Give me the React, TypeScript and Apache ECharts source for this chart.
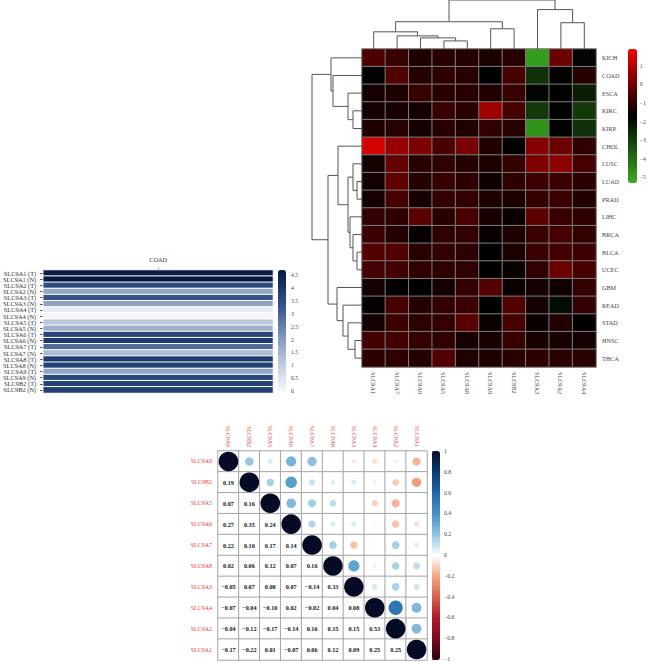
import React, { useEffect, useRef } from 'react';
import * as echarts from 'echarts';

const FONT = '"Liberation Serif", "DejaVu Serif", serif';

// ---------- Top-right clustered heatmap ----------
const hmCols = ['SLC9A1', 'SLC9A7', 'SLC9A6', 'SLC9A5', 'SLC9A8', 'SLC9A9', 'SLC9B2', 'SLC9A3', 'SLC9A2', 'SLC9A4'];
const hmRows = ['KICH', 'COAD', 'ESCA', 'KIRC', 'KIRP', 'CHOL', 'LUSC', 'LUAD', 'PRAD', 'LIHC', 'BRCA', 'BLCA', 'UCEC', 'GBM', 'READ', 'STAD', 'HNSC', 'THCA'];
const hmValues = [
  [-0.55, -0.85, -1.25, -1.1, -1.15, -1.3, -1.1, -5.0, -0.1, -1.8],
  [-1.7, -0.5, -1.15, -1.0, -1.1, -1.7, -0.65, -2.7, -1.75, -1.15],
  [-1.4, -1.25, -0.85, -1.1, -1.1, -1.2, -0.85, -1.8, -1.75, -2.3],
  [-1.4, -1.35, -1.4, -0.85, -1.1, 0.7, -0.65, -2.9, -1.75, -2.9],
  [-1.25, -1.1, -1.4, -1.1, -1.2, -1.0, -1.1, -4.8, -1.75, -2.7],
  [1.5, 0.6, 0.2, -0.6, 0.1, -1.2, -1.7, 0.3, -0.1, -1.0],
  [-1.35, -0.2, -1.1, -1.0, -1.15, -1.25, -0.95, 0.2, 0.4, -0.65],
  [-1.4, -0.25, -1.15, -0.9, -1.0, -1.45, -1.0, -0.8, -0.8, -1.05],
  [-1.4, -0.65, -1.35, -0.95, -0.95, -1.25, -1.3, -0.9, -0.8, -1.2],
  [-0.95, -1.0, -0.35, -1.1, -0.65, -1.35, -1.55, -0.3, -0.85, -1.0],
  [-0.8, -1.15, -1.6, -1.0, -0.95, -1.6, -1.25, -0.85, -0.65, -0.95],
  [-0.45, -0.45, -1.1, -0.95, -1.0, -1.7, -1.3, -0.85, -0.7, -0.8],
  [-0.65, -0.7, -1.0, -1.0, -1.0, -1.7, -1.55, -1.0, -0.1, -0.65],
  [-1.4, -1.65, -1.7, -1.4, -0.95, -0.45, -1.55, -1.35, -1.45, -0.9],
  [-1.6, -0.65, -1.15, -0.95, -0.8, -1.7, -0.45, -1.35, -1.95, -0.9],
  [-1.4, -0.8, -1.0, -0.95, -0.35, -1.55, -0.65, -1.55, -1.15, -1.75],
  [-0.7, -0.7, -0.9, -1.0, -1.35, -1.35, -0.85, -1.35, -1.35, -1.4],
  [-1.0, -1.0, -1.15, -0.45, -1.25, -1.25, -1.1, -1.0, -1.1, -1.1],
];
const hmRange = [-5.3, 1.9];
const hmColors = ['#3aab20', '#000000', '#f00000'];

// dendrogram merges: [left, right, height]; a string is a leaf, a number an earlier merge
const colMerges: [string | number, string | number, number][] = [
  ['SLC9A5', 'SLC9A8', 8],
  ['SLC9A6', 0, 11],
  ['SLC9A7', 1, 13],
  ['SLC9A1', 2, 17],
  ['SLC9A9', 'SLC9B2', 20],
  [3, 4, 27],
  ['SLC9A2', 'SLC9A4', 26],
  ['SLC9A3', 6, 39],
  [5, 7, 48.5],
];
const rowMerges: [string | number, string | number, number][] = [
  ['KIRC', 'KIRP', 9],
  ['ESCA', 0, 14],
  ['COAD', 1, 29],
  ['KICH', 2, 31],
  ['LUAD', 'PRAD', 5],
  ['LUSC', 4, 9],
  ['BLCA', 'UCEC', 5],
  ['BRCA', 6, 9],
  ['LIHC', 7, 12],
  [5, 8, 14],
  ['CHOL', 9, 24],
  ['HNSC', 'THCA', 7],
  ['STAD', 11, 14],
  ['READ', 12, 19],
  ['GBM', 13, 25],
  [10, 14, 34],
  [3, 15, 50],
];

// ---------- Left COAD heatmap ----------
const coadTitle = ['COAD'];
const coadLabels = [
  'SLC9A1 (T)', 'SLC9A1 (N)', 'SLC9A2 (T)', 'SLC9A2 (N)', 'SLC9A3 (T)', 'SLC9A3 (N)',
  'SLC9A4 (T)', 'SLC9A4 (N)', 'SLC9A5 (T)', 'SLC9A5 (N)', 'SLC9A6 (T)', 'SLC9A6 (N)',
  'SLC9A7 (T)', 'SLC9A7 (N)', 'SLC9A8 (T)', 'SLC9A8 (N)', 'SLC9A9 (T)', 'SLC9A9 (N)',
  'SLC9B2 (T)', 'SLC9B2 (N)',
];
const coadValues = [4.6, 4.7, 3.5, 1.8, 3.3, 1.9, 0.3, 0.05, 1.15, 1.65, 3.7, 3.9, 2.9, 1.4, 3.9, 3.8, 1.8, 3.6, 3.7, 3.8];
const coadRange = [0, 4.7];
const coadColors = ['#f7f8fb', '#d0d7e6', '#a3b2cc', '#7289b2', '#3f5c90', '#1c3a6e', '#08183f'];

// ---------- Correlation plot ----------
const corrGenes = ['SLC9A9', 'SLC9B2', 'SLC9A5', 'SLC9A6', 'SLC9A7', 'SLC9A8', 'SLC9A3', 'SLC9A4', 'SLC9A2', 'SLC9A1'];
const corrLower = [
  [],
  [0.19],
  [0.07, 0.16],
  [0.27, 0.35, 0.24],
  [0.22, 0.10, 0.17, 0.14],
  [0.02, 0.06, 0.12, 0.07, 0.16],
  [-0.05, 0.07, 0.00, 0.07, -0.14, 0.33],
  [-0.07, -0.04, -0.10, 0.02, -0.02, 0.04, 0.08],
  [-0.04, -0.12, -0.17, -0.14, 0.16, 0.15, 0.15, 0.53],
  [-0.17, -0.22, 0.01, -0.07, 0.06, 0.12, 0.09, 0.25, 0.25],
];
const corrColors = ['#2b0010', '#7a0c1e', '#b2182b', '#d6604d', '#f4a582', '#ffffff', '#92c5de', '#4393c3', '#2166ac', '#0c3a70', '#060b25'];

function dendroSegments(order: string[], merges: [string | number, string | number, number][]) {
  const pos: number[] = [];
  const hgt: number[] = [];
  const get = (n: string | number): [number, number] =>
    typeof n === 'string' ? [order.indexOf(n) + 0.5, 0] : [pos[n], hgt[n]];
  return merges.map((m, k) => {
    const [pa, ha] = get(m[0]);
    const [pb, hb] = get(m[1]);
    pos[k] = (pa + pb) / 2;
    hgt[k] = m[2];
    return [pa, ha, m[2], pb, hb];
  });
}

const minus = (s: string) => s.replace('-', '\u2212');

export default function App() {
  const ref = useRef<HTMLDivElement>(null);
  useEffect(() => {
    if (!ref.current) return;
    const chart = echarts.init(ref.current, undefined, { renderer: 'svg' });

    const hmData: number[][] = [];
    hmValues.forEach((row, i) => row.forEach((v, j) => hmData.push([j, i, v])));

    const coadData = coadValues.map((v, i) => [0, i, v]);

    const n = corrGenes.length;
    const corr = (i: number, j: number) => (i === j ? 1 : i > j ? corrLower[i][j] : corrLower[j][i]);
    const corrCells: number[][] = [];
    const corrCircles: number[][] = [];
    for (let i = 0; i < n; i++) {
      for (let j = 0; j < n; j++) {
        corrCells.push([j, i, corr(i, j)]);
        if (j >= i) corrCircles.push([j, i, corr(i, j)]);
      }
    }

    const colSegs = dendroSegments(hmCols, colMerges);
    const rowSegs = dendroSegments(hmRows, rowMerges);

    const lbl = (size: number, color = '#333') => ({ fontFamily: FONT, fontSize: size, color });
    const hiddenVal = (gridIndex: number, extra: any = {}) => ({ type: 'value', gridIndex, show: false, ...extra });
    const noLine = { axisLine: { show: false }, axisTick: { show: false }, splitLine: { show: false } };

    chart.setOption({
      animation: false,
      backgroundColor: '#ffffff',
      grid: [
        { left: 362, top: 49, width: 234, height: 318 },
        { left: 362, top: 0, width: 234, height: 49 },
        { left: 310, top: 49, width: 52, height: 318 },
        { left: 628, top: 49, width: 9, height: 134 },
        { left: 43, top: 270, width: 230, height: 123 },
        { left: 278, top: 270, width: 8, height: 121 },
        { left: 218, top: 451, width: 209, height: 209 },
        { left: 432, top: 451, width: 8, height: 209 },
      ],
      xAxis: [
        {
          type: 'category', gridIndex: 0, data: hmCols, position: 'bottom', ...noLine,
          axisLabel: { ...lbl(6.2, '#444'), rotate: -90, interval: 0, margin: 5 },
        },
        hiddenVal(1, { min: 0, max: hmCols.length }),
        hiddenVal(2, { min: 0, max: 52, inverse: true }),
        hiddenVal(3, { min: 0, max: 1 }),
        {
          type: 'category', gridIndex: 4, data: coadTitle, position: 'top',
          axisLine: { show: false }, splitLine: { show: false },
          axisTick: { show: true, alignWithLabel: true, length: 2, lineStyle: { color: '#888' } },
          axisLabel: { ...lbl(6.2), margin: 8 },
        },
        hiddenVal(5, { min: 0, max: 1 }),
        {
          type: 'category', gridIndex: 6, data: corrGenes, position: 'top', ...noLine,
          axisLabel: { ...lbl(6, '#e8403f'), rotate: 90, interval: 0, margin: 4 },
        },
        hiddenVal(7, { min: 0, max: 1 }),
      ],
      yAxis: [
        {
          type: 'category', gridIndex: 0, data: hmRows, inverse: true, position: 'right', ...noLine,
          axisLabel: { ...lbl(6.2, '#444'), interval: 0, margin: 6 },
        },
        hiddenVal(1, { min: 0, max: 48.5 }),
        hiddenVal(2, { min: 0, max: hmRows.length, inverse: true }),
        {
          type: 'value', gridIndex: 3, min: hmRange[0], max: hmRange[1], splitNumber: 8, position: 'right', ...noLine,
          axisLabel: { ...lbl(5.8, '#444'), margin: 5, showMinLabel: false, showMaxLabel: false, formatter: (v: number) => minus(String(v)) },
        },
        {
          type: 'category', gridIndex: 4, data: coadLabels, inverse: true,
          axisLine: { show: false }, splitLine: { show: false },
          axisTick: { show: true, alignWithLabel: true, length: 3, lineStyle: { color: '#444' } },
          axisLabel: { ...lbl(6.4), interval: 0, margin: 7 },
        },
        {
          type: 'value', gridIndex: 5, min: coadRange[0], max: coadRange[1], splitNumber: 10, position: 'right', ...noLine,
          axisLabel: { ...lbl(5.8, '#444'), margin: 5, showMaxLabel: false },
        },
        {
          type: 'category', gridIndex: 6, data: corrGenes, inverse: true, ...noLine,
          axisLabel: { ...lbl(6, '#e8403f'), interval: 0, margin: 6 },
        },
        {
          type: 'value', gridIndex: 7, min: -1, max: 1, interval: 0.2, position: 'right',
          axisLine: { show: false }, splitLine: { show: false },
          axisTick: { show: true, length: 2, lineStyle: { color: '#444' } },
          axisLabel: { ...lbl(5.8, '#444'), margin: 4, formatter: (v: number) => minus(String(v)) },
        },
      ],
      visualMap: [
        {
          type: 'continuous', seriesIndex: 0, dimension: 2, min: hmRange[0], max: hmRange[1],
          inRange: { color: hmColors }, left: 628, top: 49, itemWidth: 9, itemHeight: 134,
          padding: 0, calculable: false, text: null, hoverLink: false,
        },
        {
          type: 'continuous', seriesIndex: 3, dimension: 2, min: coadRange[0], max: coadRange[1],
          inRange: { color: coadColors }, left: 278, top: 270, itemWidth: 8, itemHeight: 121,
          padding: 0, calculable: false, text: null, hoverLink: false,
        },
        {
          type: 'continuous', seriesIndex: 5, dimension: 2, min: -1, max: 1,
          inRange: { color: corrColors }, left: 432, top: 451, itemWidth: 8, itemHeight: 209,
          padding: 0, calculable: false, text: null, hoverLink: false,
        },
        {
          type: 'continuous', seriesIndex: 4, dimension: 2, min: -1, max: 1, show: false,
          inRange: { color: ['#ffffff', '#ffffff'] },
        },
      ],
      series: [
        {
          type: 'heatmap', xAxisIndex: 0, yAxisIndex: 0, data: hmData,
          itemStyle: { borderColor: '#7d7d7d', borderWidth: 1 },
          emphasis: { disabled: true },
        },
        {
          type: 'custom', xAxisIndex: 1, yAxisIndex: 1, data: colSegs, silent: true,
          renderItem: (_p: any, api: any) => {
            const a = api.value(0), ha = api.value(1), h = api.value(2), b = api.value(3), hb = api.value(4);
            return {
              type: 'polyline',
              shape: { points: [api.coord([a, ha]), api.coord([a, h]), api.coord([b, h]), api.coord([b, hb])] },
              style: { stroke: '#555', lineWidth: 1, fill: 'none' },
            };
          },
        },
        {
          type: 'custom', xAxisIndex: 2, yAxisIndex: 2, data: rowSegs, silent: true,
          renderItem: (_p: any, api: any) => {
            const a = api.value(0), ha = api.value(1), h = api.value(2), b = api.value(3), hb = api.value(4);
            return {
              type: 'polyline',
              shape: { points: [api.coord([ha, a]), api.coord([h, a]), api.coord([h, b]), api.coord([hb, b])] },
              style: { stroke: '#555', lineWidth: 1, fill: 'none' },
            };
          },
        },
        {
          type: 'heatmap', xAxisIndex: 4, yAxisIndex: 4, data: coadData,
          itemStyle: { borderColor: '#ffffff', borderWidth: 1 },
          emphasis: { disabled: true },
        },
        {
          type: 'heatmap', xAxisIndex: 6, yAxisIndex: 6, data: corrCells,
          itemStyle: { color: '#ffffff', borderColor: '#a5a5a5', borderWidth: 1 },
          emphasis: { disabled: true },
          label: {
            show: true, fontFamily: FONT, fontSize: 6.2, fontWeight: 'bold', color: '#111',
            formatter: (p: any) => (p.data[1] > p.data[0] ? minus(p.data[2].toFixed(2)) : ''),
          },
        },
        {
          type: 'scatter', xAxisIndex: 6, yAxisIndex: 6, data: corrCircles,
          symbol: 'circle', symbolSize: (v: number[]) => 19.6 * Math.sqrt(Math.abs(v[2])),
          itemStyle: { opacity: 1 },
          emphasis: { disabled: true },
          z: 5,
        },
      ],
    });
    return () => chart.dispose();
  }, []);
  return (
    <div
      ref={ref}
      style={{ position: 'fixed', left: 0, top: 0, width: 649, height: 662, background: '#fff' }}
    />
  );
}
